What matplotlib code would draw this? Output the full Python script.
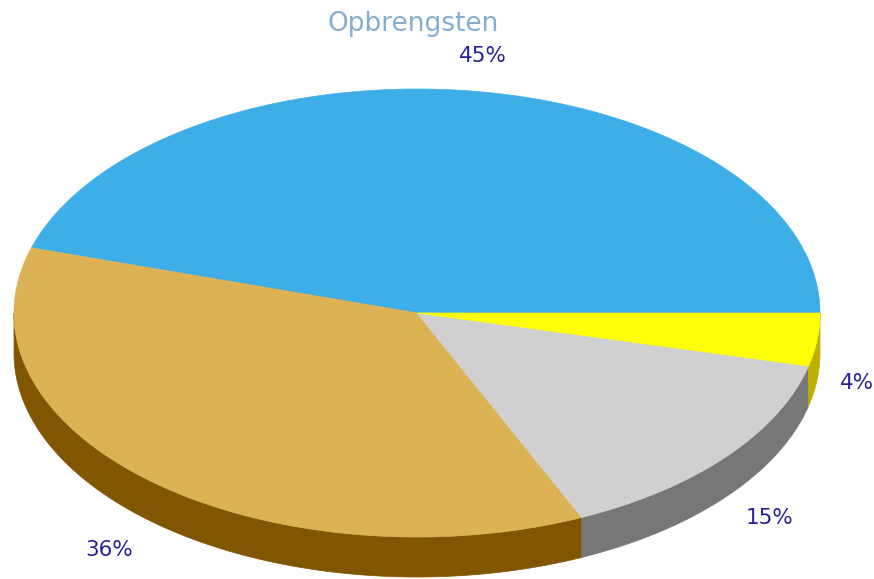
import numpy as np
import matplotlib
matplotlib.use("Agg")
import matplotlib.pyplot as plt

# ---- Data ----
title = "Opbrengsten"
shares = [45.3, 36.4, 14.5, 3.8]
labels = ["45%", "36%", "15%", "4%"]
top_colors = ["#3EAEE8", "#DDB254", "#D0D0D0", "#FFFF0A"]
side_colors = ["#2A7FB0", "#825600", "#777777", "#BFB000"]

# ---- Layout (pixels) ----
CX, CY = 417, 313
RX, RY = 403, 224
DEPTH = 40
LABEL_RX, LABEL_RY = 447, 259
label_nudge_x = [0, -12, 9, -4]
label_nudge_y = [-1, 3, -1, -1]

fig = plt.figure(figsize=(8.74, 5.79), dpi=100)
ax = fig.add_axes([0, 0, 1, 1])
ax.set_xlim(0, 874)
ax.set_ylim(579, 0)
ax.axis("off")

edges = np.concatenate([[0], np.cumsum(shares)]) / np.sum(shares) * 2 * np.pi


def rim(a, b, drop=0):
    t = np.linspace(a, b, 200)
    return CX + RX * np.cos(t), CY - RY * np.sin(t) + drop


# side walls only where the slice faces the viewer (pi..2pi)
for i, color in enumerate(side_colors):
    a = max(edges[i], np.pi)
    b = edges[i + 1]
    if b <= a:
        continue
    x, y = rim(a, b)
    x2, y2 = rim(b, a, DEPTH)
    ax.fill(np.r_[x, x2], np.r_[y, y2], color=color, lw=0.5, zorder=1)

# top surface
for i, color in enumerate(top_colors):
    x, y = rim(edges[i], edges[i + 1])
    ax.fill(np.r_[CX, x], np.r_[CY, y], color=color, lw=0.5, zorder=2)

# percent labels
for i, text in enumerate(labels):
    mid = (edges[i] + edges[i + 1]) / 2
    lx = CX + LABEL_RX * np.cos(mid) + label_nudge_x[i]
    ly = CY - LABEL_RY * np.sin(mid) + label_nudge_y[i]
    if mid > np.pi:
        ly += DEPTH
    ax.text(lx, ly, text, color="#2A2096", fontsize=15.5,
            ha="center", va="center", zorder=3)

ax.text(413, 24, title, color="#85ADD3", fontsize=19, ha="center", va="center", zorder=3)

fig.savefig("out.png", dpi=100)
plt.close(fig)
